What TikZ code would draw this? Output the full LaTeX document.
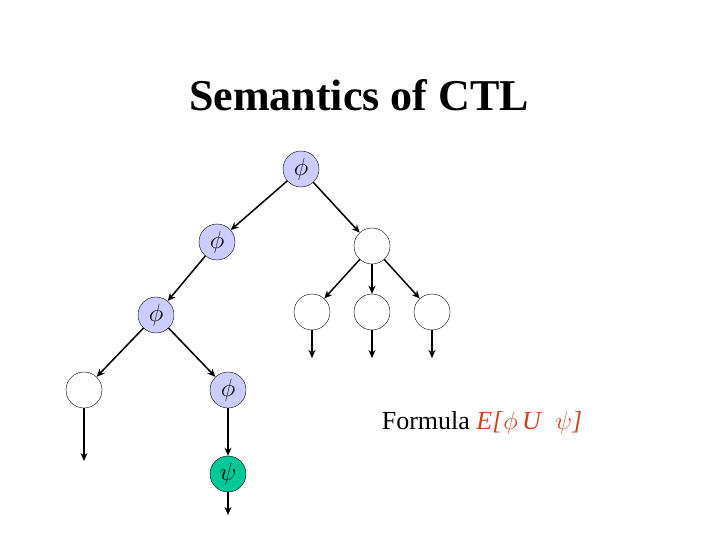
\documentclass[tikz,border=0pt]{standalone}
\usepackage{fontspec}
\setmainfont{Liberation Serif}
\usepackage{tikz}
\usetikzlibrary{arrows.meta}
\definecolor{philblue}{HTML}{CCCCFF}
\definecolor{psigreen}{HTML}{00C896}
\definecolor{formred}{HTML}{CC4422}

\begin{document}
\begin{tikzpicture}[x=1pt, y=-1pt,
    state/.style={circle, draw, thin, minimum size=36pt, inner sep=0pt, font=\fontsize{26}{26}\selectfont},
    phistate/.style={state, fill=philblue},
    psistate/.style={state, fill=psigreen},
    edge/.style={-{Stealth[length=8pt, width=7pt]}, line width=1.5pt}]
  \useasboundingbox (0,0) rectangle (720,540);
  \node[font=\fontsize{44}{44}\selectfont\bfseries] (title) at (359,95) {Semantics of CTL};

  % the tree
  \node[phistate] (root) at (301,169) {$\phi$};
  \node[phistate] (l1) at (217,242) {$\phi$};
  \node[state] (r1) at (372,246) {};
  \node[phistate] (l2) at (156,315) {$\phi$};
  \node[state] (r2a) at (312,312) {};
  \node[state] (r2b) at (372,312) {};
  \node[state] (r2c) at (432,312) {};
  \node[state] (l3a) at (84,390) {};
  \node[phistate] (l3b) at (228,390) {$\phi$};
  \node[psistate] (goal) at (228,474) {$\psi$};

  % free ends
  \coordinate (e1) at (312,358);
  \coordinate (e2) at (372,358);
  \coordinate (e3) at (432,358);
  \coordinate (e4) at (84,461);
  \coordinate (e5) at (228,515);

  \draw[edge] (root) -- (l1);
  \draw[edge] (root) -- (r1);
  \draw[edge] (l1) -- (l2);
  \draw[edge] (r1) -- (r2a);
  \draw[edge] (r1) -- (r2b);
  \draw[edge] (r1) -- (r2c);
  \draw[edge] (l2) -- (l3a);
  \draw[edge] (l2) -- (l3b);
  \draw[edge] (l3b) -- (goal);
  \draw[edge] (r2a) -- (e1);
  \draw[edge] (r2b) -- (e2);
  \draw[edge] (r2c) -- (e3);
  \draw[edge] (l3a) -- (e4);
  \draw[edge] (goal) -- (e5);

  \node[font=\fontsize{26}{26}\selectfont] (formula) at (482,423)
    {Formula \textcolor{formred}{\textit{E[}$\phi$\,\textit{U}\ \ $\psi$\textit{]}}};
\end{tikzpicture}
\end{document}
